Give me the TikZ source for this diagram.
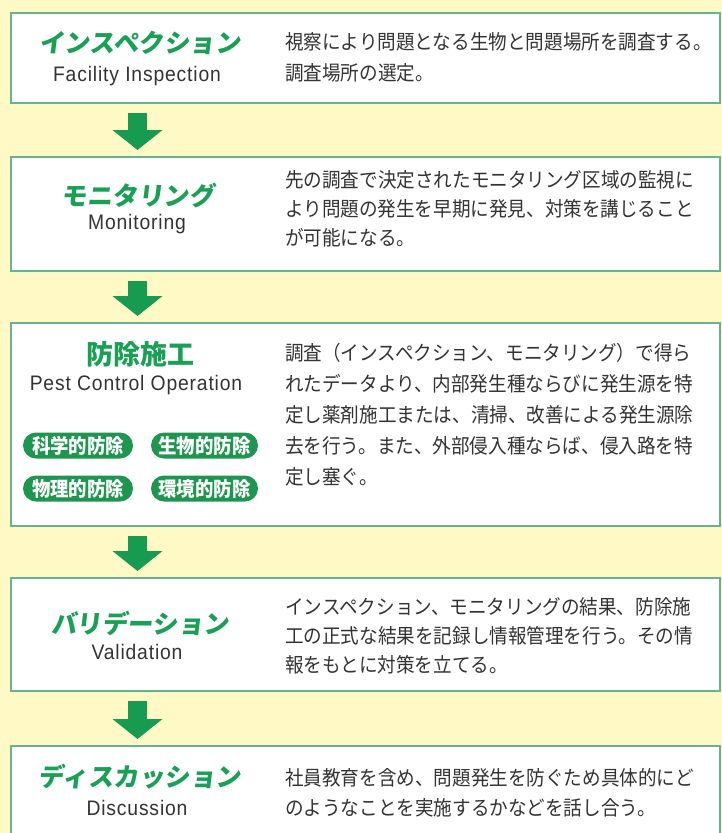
\documentclass[tikz,border=0pt]{standalone}
\usepackage{fontspec}
\usetikzlibrary{arrows.meta}
\newfontfamily\jpbody[FakeStretch=0.92,BoldFeatures={FakeStretch=0.92}]{Noto Sans CJK JP}
\newfontfamily\jptitle[FakeSlant=0.12,BoldFeatures={FakeSlant=0.12}]{Noto Sans CJK JP}
\newfontfamily\jphead{Noto Sans CJK JP}
\newfontfamily\ensub[FakeStretch=0.92,LetterSpace=4]{Liberation Sans}
\definecolor{bgyellow}{HTML}{FFF9C6}
\definecolor{boxline}{HTML}{66B394}
\definecolor{arrowgreen}{HTML}{169B50}
\definecolor{titlegreen}{HTML}{18A055}
\definecolor{pillgreen}{HTML}{1E9650}
\definecolor{bodytext}{HTML}{333333}
\begin{document}
\begin{tikzpicture}[x=1pt,y=-1pt,
  box/.style={draw=boxline, line width=1.6pt, fill=white, rectangle, anchor=north west, inner sep=0, minimum width=709pt},
  ttl/.style={text=titlegreen, font=\jptitle\bfseries\fontsize{25.5}{30}\selectfont, inner sep=0},
  ttlk/.style={text=titlegreen, font=\jphead\bfseries\fontsize{27}{30}\selectfont, inner sep=0},
  sub/.style={text=bodytext, font=\ensub\fontsize{21}{24}\selectfont, inner sep=0},
  body/.style={text=bodytext, font=\jpbody\fontsize{20.2}{31}\selectfont, inner sep=0, anchor=west},
  pill/.style={fill=pillgreen, rounded corners=13pt, text=white, font=\jpbody\bfseries\fontsize{20}{22}\selectfont, minimum height=26pt, inner sep=0},
  flow/.style={draw=arrowgreen, line width=19pt, -{Triangle[width=49pt,length=20pt]}, shorten <=9pt, shorten >=6pt}
]
\useasboundingbox (0,0) rectangle (722,833);
\clip (0,0) rectangle (722,833);
\fill[bgyellow] (0,0) rectangle (722,833);
\coordinate (ax) at (137.5,0);

% boxes
\node[box, minimum height=90pt] (b1) at (10,12) {};
\node[box, minimum height=114pt] (b2) at (10,156) {};
\node[box, minimum height=203pt] (b3) at (10,322) {};
\node[box, minimum height=113pt] (b4) at (10,577) {};
\node[box, minimum height=110pt] (b5) at (10,745) {};

% arrows
\draw[flow] (b1.south -| ax) -- (b2.north -| ax);
\draw[flow] (b2.south -| ax) -- (b3.north -| ax);
\draw[flow] (b3.south -| ax) -- (b4.north -| ax);
\draw[flow] (b4.south -| ax) -- (b5.north -| ax);

% box 1
\node[ttl] (h1) at (140,43) {インスペクション};
\node[sub] (s1) at (137,76) {Facility Inspection};
\node[body] (t1a) at (285,42) {視察により問題となる生物と問題場所を調査する。};
\node[body] (t1b) at (285,73) {調査場所の選定。};

% box 2
\node[ttl] (h2) at (138,196) {モニタリング};
\node[sub] (s2) at (137,224) {Monitoring};
\node[body] (t2a) at (285,180) {先の調査で決定されたモニタリング区域の監視に};
\node[body] (t2b) at (285,209) {より問題の発生を早期に発見、対策を講じること};
\node[body] (t2c) at (285,238) {が可能になる。};

% box 3
\node[ttlk] (h3) at (140,354) {防除施工};
\node[sub] (s3) at (136,385) {Pest Control Operation};
\node[pill, minimum width=110pt] (p1) at (78,445.5) {科学的防除};
\node[pill, minimum width=107pt] (p2) at (204.5,445.5) {生物的防除};
\node[pill, minimum width=110pt] (p3) at (78,488.5) {物理的防除};
\node[pill, minimum width=107pt] (p4) at (204.5,488.5) {環境的防除};
\node[body] (t3a) at (285,353) {調査（インスペクション、モニタリング）で得ら};
\node[body] (t3b) at (285,384) {れたデータより、内部発生種ならびに発生源を特};
\node[body] (t3c) at (285,415) {定し薬剤施工または、清掃、改善による発生源除};
\node[body] (t3d) at (285,446) {去を行う。また、外部侵入種ならば、侵入路を特};
\node[body] (t3e) at (285,477) {定し塞ぐ。};

% box 4
\node[ttl] (h4) at (140,623) {バリデーション};
\node[sub] (s4) at (137,652) {Validation};
\node[body] (t4a) at (285,607) {インスペクション、モニタリングの結果、防除施};
\node[body] (t4b) at (285,636) {工の正式な結果を記録し情報管理を行う。その情};
\node[body] (t4c) at (285,665) {報をもとに対策を立てる。};

% box 5
\node[ttl] (h5) at (140,777) {ディスカッション};
\node[sub] (s5) at (137,808) {Discussion};
\node[body] (t5a) at (285,778) {社員教育を含め、問題発生を防ぐため具体的にど};
\node[body] (t5b) at (285,808) {のようなことを実施するかなどを話し合う。};
\end{tikzpicture}
\end{document}
